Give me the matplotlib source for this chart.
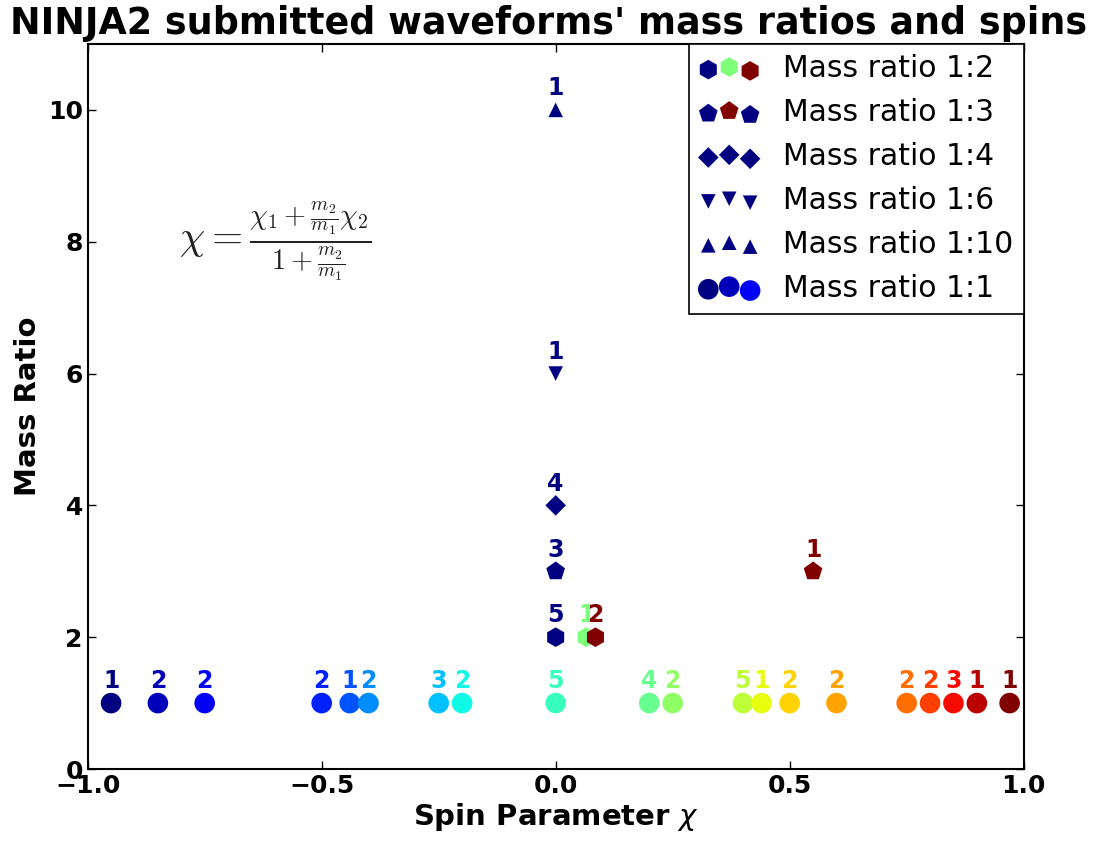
import numpy as np
import matplotlib.pyplot as plt
from matplotlib import cm

# spin values and number of submitted waveforms, per mass ratio
spin_q1 = [-0.95, -0.85, -0.75, -0.50, -0.44, -0.40, -0.25, -0.20, 0.0, 0.20,
           0.25, 0.40, 0.44, 0.50, 0.60, 0.75, 0.80, 0.85, 0.90, 0.97]
count_q1 = [1, 2, 2, 2, 1, 2, 3, 2, 5, 4, 2, 5, 1, 2, 2, 2, 2, 3, 1, 1]

spin_q2 = [0.0, 0.065, 0.085]
count_q2 = [5, 1, 2]

spin_q3 = [0.0, 0.55]
count_q3 = [3, 1]

spin_q4 = [0.0]
count_q4 = [4]

spin_q6 = [0.0]
count_q6 = [1]

spin_q10 = [0.0]
count_q10 = [1]

series = [
    # (ratio, spins, counts, marker, size, label)
    (2, spin_q2, count_q2, 'h', 200, 'Mass ratio 1:2'),
    (3, spin_q3, count_q3, 'p', 200, 'Mass ratio 1:3'),
    (4, spin_q4, count_q4, 'D', 110, 'Mass ratio 1:4'),
    (6, spin_q6, count_q6, 'v', 110, 'Mass ratio 1:6'),
    (10, spin_q10, count_q10, '^', 110, 'Mass ratio 1:10'),
    (1, spin_q1, count_q1, 'o', 220, 'Mass ratio 1:1'),
]

fig = plt.figure(figsize=(10.96, 8.46), dpi=100)
ax = fig.add_axes([0.080, 0.091, 0.854, 0.857])

for ratio, spins, counts, marker, size, label in series:
    n = len(spins)
    colors = cm.jet(np.linspace(0, 1, n)) if n > 1 else cm.jet([0.0])
    ax.scatter(spins, [ratio] * n, c=colors, marker=marker, s=size,
               edgecolors='none', label=label, zorder=3)
    for x, k, col in zip(spins, counts, colors):
        ax.annotate(str(k), (x, ratio), xytext=(0, 7), textcoords='offset points',
                    ha='center', va='bottom', color=col, fontsize=17,
                    fontweight='bold', zorder=4)

ax.text(-0.6, 8.0,
        r'$\chi = \frac{\chi_1 + \frac{m_2}{m_1}\chi_2}{1+\frac{m_2}{m_1}}$',
        fontsize=29, ha='center', va='center', math_fontfamily='cm', color='#222222')

ax.set_xlim(-1, 1)
ax.set_ylim(0, 11)
ax.set_xticks([-1.0, -0.5, 0.0, 0.5, 1.0])
ax.set_yticks([0, 2, 4, 6, 8, 10])
ax.tick_params(direction='in', top=True, right=True, length=6, width=1,
               labelsize=18)
for lab in ax.get_xticklabels() + ax.get_yticklabels():
    lab.set_fontweight('bold')
for sp in ax.spines.values():
    sp.set_linewidth(1.5)

ax.set_xlabel(r'Spin Parameter $\chi$', fontsize=21, fontweight='bold', labelpad=2)
ax.set_ylabel('Mass Ratio', fontsize=21, fontweight='bold', labelpad=4)
ax.set_title("NINJA2 submitted waveforms' mass ratios and spins",
             fontsize=26.3, fontweight='bold', pad=7, x=0.4925)

leg = ax.legend(loc='upper right', scatterpoints=3, fontsize=21.5,
                borderaxespad=0, fancybox=False, framealpha=1,
                handletextpad=0.8, labelspacing=0.5, borderpad=0.35)
leg.get_frame().set_edgecolor('black')
leg.get_frame().set_linewidth(1.2)

fig.savefig('out.png', dpi=100)
